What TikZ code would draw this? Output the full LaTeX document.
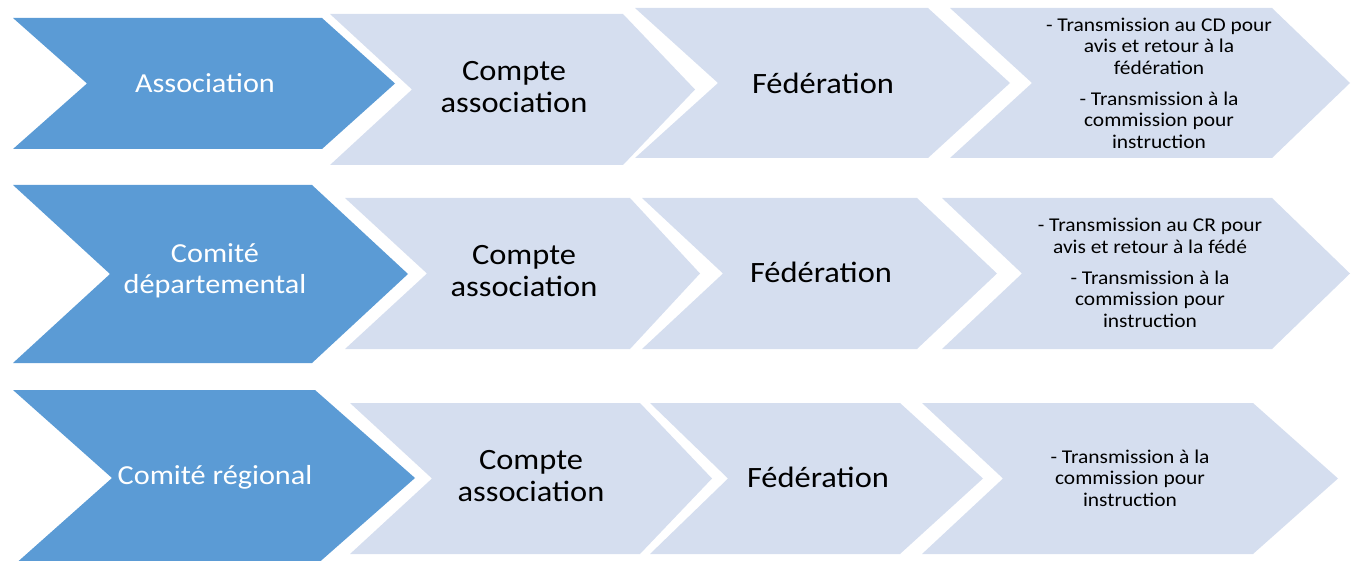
\documentclass[tikz,border=0pt]{standalone}
\usepackage{fontspec}
\setmainfont{Carlito}[FakeStretch=1.1]
\definecolor{headblue}{HTML}{5B9BD5}
\definecolor{stagegrey}{HTML}{D5DEEF}
% chevron: style, left x, top y, notch x, corner x, tip x, bottom y
\newcommand{\chevshape}[7]{%
  \fill[#1] (#2,#3) -- (#5,#3) -- (#6,{(#3+#7)/2}) -- (#5,#7) -- (#2,#7) -- (#4,{(#3+#7)/2}) -- cycle;}

\begin{document}
\begin{tikzpicture}[
        x=1pt, y=-1pt, % grille en pixels, y vers le bas
        head/.style = {fill=headblue},
        stage/.style = {fill=stagegrey},
        headtxt/.style = {text=white, align=center, font=\fontsize{27.5}{31}\selectfont},
        stagetxt/.style = {align=center, font=\fontsize{29.5}{32}\selectfont},
        notetxt/.style = {align=center, font=\fontsize{19.5}{21.5}\selectfont}, % textes des dernières étapes
    ]
    \useasboundingbox (0,0) rectangle (1352,561);
    \clip (0,0) rectangle (1352,561);

    % Association
    \chevshape{head}{13}{18}{87}{322}{395}{149}
    \chevshape{stage}{330}{14}{412}{623}{695}{165}
    \chevshape{stage}{635}{8}{718}{928}{1010}{158}
    \chevshape{stage}{950}{8}{1032}{1272}{1350}{158}

    % Comité départemental
    \chevshape{head}{13}{185}{110}{312}{408}{363}
    \chevshape{stage}{345}{198}{427}{630}{700}{349}
    \chevshape{stage}{642}{198}{723}{917}{997}{349}
    \chevshape{stage}{942}{198}{1022}{1272}{1350}{349}

    % Comité régional
    \chevshape{head}{13}{390}{112}{315}{415}{566}
    \chevshape{stage}{350}{403}{432}{640}{712}{554}
    \chevshape{stage}{650}{403}{728}{900}{983}{554}
    \chevshape{stage}{922}{403}{1003}{1253}{1338}{554}

    \node[headtxt] (asso-head) at (205,83) {Association};
    \node[stagetxt] (asso-cpt) at (514,87) {Compte\\association};
    \node[stagetxt] (asso-fed) at (823,83) {Fédération};
    \node[notetxt] (asso-note) at (1159,83) {- Transmission au CD pour\\avis et retour à la\\fédération\\[9.5pt]- Transmission à la\\commission pour\\instruction};

    \node[headtxt] (cd-head) at (215,271) {Comité\\départemental};
    \node[stagetxt] (cd-cpt) at (524,271) {Compte\\association};
    \node[stagetxt] (cd-fed) at (821,272) {Fédération};
    \node[notetxt] (cd-note) at (1150,273) {- Transmission au CR pour\\avis et retour à la fédé\\[9.5pt]- Transmission à la\\commission pour\\instruction};

    \node[headtxt] (cr-head) at (215,477) {Comité régional};
    \node[stagetxt] (cr-cpt) at (531,476) {Compte\\association};
    \node[stagetxt] (cr-fed) at (818,477) {Fédération};
    \node[notetxt] (cr-note) at (1130,478) {- Transmission à la\\commission pour\\instruction};
\end{tikzpicture}
\end{document}
